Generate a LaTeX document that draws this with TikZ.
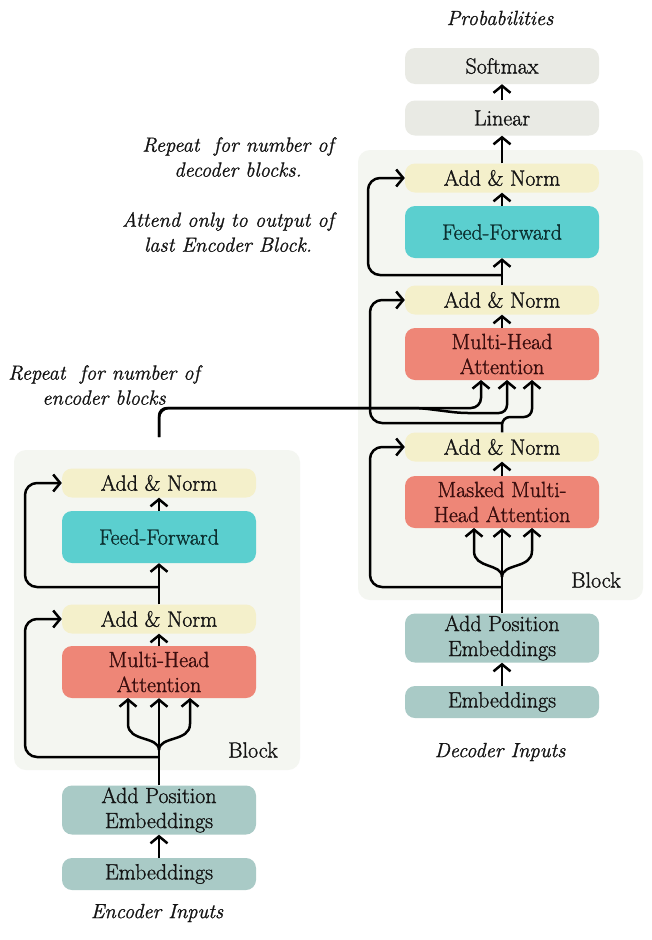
\documentclass[tikz,border=0pt]{standalone}
\usepackage{fontspec}
\setmainfont{Latin Modern Roman}[
  UprightFeatures={FakeBold=1.2},
  ItalicFeatures={FakeBold=1.0}]
\usetikzlibrary{arrows.meta}
\definecolor{blkbg}{HTML}{F4F6F1}
\definecolor{anfill}{HTML}{F4F0CB}
\definecolor{fffill}{HTML}{5BCFCF}
\definecolor{attfill}{HTML}{EE8677}
\definecolor{embfill}{HTML}{A9CAC6}
\definecolor{outfill}{HTML}{E9EAE4}
\definecolor{inkc}{HTML}{141414}
\definecolor{attink}{HTML}{3A0E0E}
\definecolor{ffink}{HTML}{0C3030}
\tikzset{
  box/.style={rectangle, rounded corners=10pt, minimum width=194pt, inner sep=0pt,
    align=center, text=inkc, font=\fontsize{22}{25}\selectfont},
  anbox/.style={box, fill=anfill, minimum height=29pt},
  ffbox/.style={box, fill=fffill, minimum height=52pt, text=ffink},
  attbox/.style={box, fill=attfill, minimum height=52pt, text=attink},
  posbox/.style={box, fill=embfill, minimum height=49pt},
  embbox/.style={box, fill=embfill, minimum height=32pt},
  outbox/.style={box, fill=outfill, minimum height=36pt},
  blkbox/.style={rectangle, rounded corners=12pt, fill=blkbg, inner sep=0pt},
  note/.style={text=inkc, align=center, font=\fontsize{20.5}{25}\selectfont\itshape},
  lbl/.style={text=inkc, font=\fontsize{22}{25}\selectfont},
  arr/.style={line width=2.5pt, draw=black, line join=round,
    -{Straight Barb[length=7pt,width=17pt,line width=2.5pt]}},
}
\begin{document}
\begin{tikzpicture}[x=1pt,y=-1pt]
\useasboundingbox[fill=white] (0,0) rectangle (652,940);

% block backgrounds
\node[blkbox, minimum width=286pt, minimum height=320pt] (eBlk) at (157,610) {};
\node[blkbox, minimum width=285pt, minimum height=450pt] (dBlk) at (500.5,375) {};

% encoder nodes
\node[anbox] (eAN1) at (159,483) {Add \& Norm};
\node[ffbox] (eFF) at (159,537) {Feed-Forward};
\node[anbox] (eAN2) at (159,619) {Add \& Norm};
\node[attbox] (eMHA) at (159,672) {Multi-Head\\Attention};
\node[posbox] (ePos) at (159,810) {Add Position\\Embeddings};
\node[embbox] (eEmb) at (159,874) {Embeddings};
\node[lbl] (eBlkL) at (253,750) {Block};
\node[note] (eIn) at (157,913) {Encoder Inputs};
\node[note] (eRep) at (104,385) {Repeat~ for number of\\encoder blocks};

% decoder nodes
\node[note] (prob) at (500,18) {Probabilities};
\node[outbox] (soft) at (502,66) {Softmax};
\node[outbox, minimum height=35pt] (lin) at (502,118) {Linear};
\node[anbox] (dAN1) at (502,178) {Add \& Norm};
\node[ffbox] (dFF) at (502,232) {Feed-Forward};
\node[anbox] (dAN2) at (502,300) {Add \& Norm};
\node[attbox] (dMHA) at (502,354) {Multi-Head\\Attention};
\node[anbox] (dAN3) at (502,447) {Add \& Norm};
\node[attbox] (dMMHA) at (502,502) {Masked Multi-\\Head Attention};
\node[posbox] (dPos) at (502,638) {Add Position\\Embeddings};
\node[embbox] (dEmb) at (502,702) {Embeddings};
\node[lbl] (dBlkL) at (596,580) {Block};
\node[note] (dIn) at (500,752) {Decoder Inputs};
\node[note] (dRep) at (238,157) {Repeat~ for number of\\decoder blocks.};
\node[note] (dAtt) at (228,232) {Attend only to output of\\last Encoder Block.};

% encoder connectors
\coordinate (eFk) at (159,750);
\coordinate (eRes1) at (159,757);
\coordinate (eRes2) at (159,587);
\coordinate (eOut) at (159,437);
\draw[arr] (eEmb.north) -- (ePos.south);
\draw[arr] (ePos.north) -- (eMHA.south);
\draw[arr] (eFk) .. controls (159,736) and (128,742) .. (128,724) -- (128,698);
\draw[arr] (eFk) .. controls (159,736) and (190,742) .. (190,724) -- (190,698);
\draw[arr, rounded corners=12pt] (eRes1) -- (25,757) -- (25,619) -- (eAN2.west);
\draw[arr] (eMHA.north) -- (eAN2.south);
\draw[arr] (eAN2.north) -- (eFF.south);
\draw[arr, rounded corners=12pt] (eRes2) -- (25,587) -- (25,483) -- (eAN1.west);
\draw[arr] (eFF.north) -- (eAN1.south);

% encoder output to decoder cross attention
\draw[arr, rounded corners=10pt] (eOut) -- (159,408) -- (481,408) -- (481,380);
\draw[arr, rounded corners=8pt] (eOut) -- (159,408) -- (420,408) -- (460,413) -- (507,413) -- (507,380);

% decoder connectors
\coordinate (dFk) at (502,577);
\coordinate (dRes1) at (502,587);
\coordinate (dRes2) at (502,423);
\coordinate (dRes3) at (502,275);
\draw[arr] (dEmb.north) -- (dPos.south);
\draw[arr] (dPos.north) -- (dMMHA.south);
\draw[arr] (dFk) .. controls (502,563) and (474,569) .. (474,551) -- (474,528);
\draw[arr] (dFk) .. controls (502,563) and (532,569) .. (532,551) -- (532,528);
\draw[arr, rounded corners=12pt] (dRes1) -- (370,587) -- (370,447) -- (dAN3.west);
\draw[arr] (dMMHA.north) -- (dAN3.south);
\draw[arr, rounded corners=8pt] (dAN3.north) -- (502,417) -- (532,417) -- (532,380);
\draw[arr, rounded corners=12pt] (dRes2) -- (370,423) -- (370,300) -- (dAN2.west);
\draw[arr] (dMHA.north) -- (dAN2.south);
\draw[arr] (dAN2.north) -- (dFF.south);
\draw[arr, rounded corners=12pt] (dRes3) -- (368,275) -- (368,178) -- (dAN1.west);
\draw[arr] (dFF.north) -- (dAN1.south);
\draw[arr] (dAN1.north) -- (lin.south);
\draw[arr] (lin.north) -- (soft.south);
\end{tikzpicture}
\end{document}
